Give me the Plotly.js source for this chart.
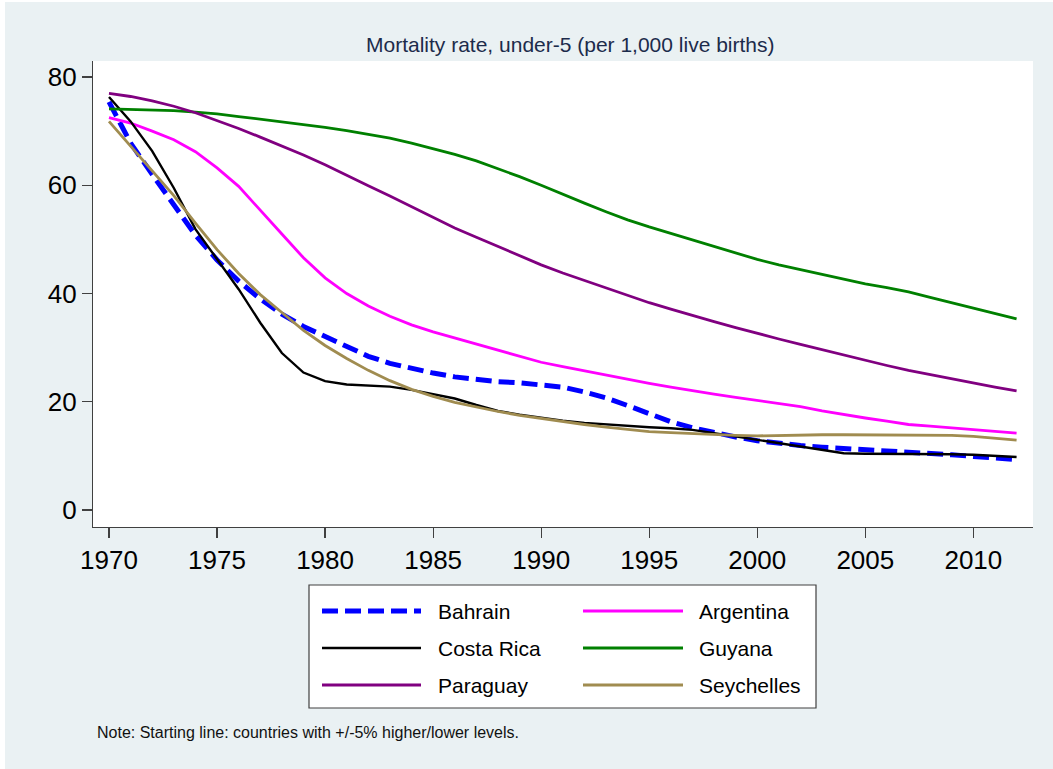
<!DOCTYPE html>
<html>
<head>
<meta charset="utf-8">
<script src="https://cdn.plot.ly/plotly-3.0.1.min.js"></script>
<style>
  html, body { margin: 0; padding: 0; background: #ffffff; }
  #chart { position: absolute; left: 5px; top: 2px; width: 1048px; height: 767px; }
</style>
</head>
<body>
<div id="chart"></div>
<script>
// Under-5 mortality rate (per 1,000 live births), 1970-2012
const years = [1970, 1971, 1972, 1973, 1974, 1975, 1976, 1977, 1978, 1979,
               1980, 1981, 1982, 1983, 1984, 1985, 1986, 1987, 1988, 1989,
               1990, 1991, 1992, 1993, 1994, 1995, 1996, 1997, 1998, 1999,
               2000, 2001, 2002, 2003, 2004, 2005, 2006, 2007, 2008, 2009,
               2010, 2011, 2012];

const bahrain = [75.4, 67.8, 62.0, 56.2, 50.8, 46.2, 42.3, 39.0, 36.2, 33.9,
                 32.0, 30.1, 28.4, 27.1, 26.1, 25.3, 24.6, 24.1, 23.7, 23.5,
                 23.2, 22.7, 21.8, 20.7, 19.3, 17.8, 16.3, 15.2, 14.3, 13.5,
                 12.8, 12.3, 11.9, 11.6, 11.4, 11.2, 11.0, 10.8, 10.5, 10.2,
                 9.9, 9.6, 9.3];

const argentina = [72.5, 71.5, 70.0, 68.4, 66.2, 63.2, 59.8, 55.5, 51.0, 46.6,
                   42.9, 40.0, 37.7, 35.8, 34.2, 32.9, 31.8, 30.6, 29.5, 28.4,
                   27.3, 26.5, 25.7, 24.9, 24.1, 23.4, 22.7, 22.0, 21.4, 20.8,
                   20.2, 19.6, 19.1, 18.3, 17.6, 17.0, 16.4, 15.8, 15.5, 15.2,
                   14.8, 14.5, 14.2];

const costaRica = [76.3, 71.8, 66.3, 59.5, 51.9, 46.3, 40.8, 34.6, 29.0, 25.4,
                   23.8, 23.2, 23.0, 22.8, 22.2, 21.4, 20.6, 19.4, 18.3, 17.6,
                   17.0, 16.5, 16.1, 15.8, 15.5, 15.3, 15.1, 14.8, 14.2, 13.6,
                   13.0, 12.3, 11.7, 11.1, 10.5, 10.4, 10.4, 10.4, 10.4, 10.3,
                   10.2, 10.0, 9.8];

const guyana = [74.1, 74.0, 73.9, 73.8, 73.5, 73.2, 72.7, 72.2, 71.8, 71.3,
                70.7, 70.1, 69.4, 68.7, 67.8, 66.8, 65.7, 64.5, 63.1, 61.6,
                60.0, 58.3, 56.7, 55.1, 53.6, 52.3, 51.1, 49.9, 48.8, 47.6,
                46.3, 45.3, 44.4, 43.5, 42.7, 41.8, 41.1, 40.3, 39.3, 38.3,
                37.3, 36.3, 35.3];

const paraguay = [77.0, 76.4, 75.6, 74.6, 73.4, 72.0, 70.5, 68.9, 67.3, 65.6,
                  63.8, 61.8, 59.9, 58.0, 56.0, 54.0, 52.1, 50.4, 48.7, 47.0,
                  45.3, 43.8, 42.4, 41.0, 39.6, 38.3, 37.1, 35.9, 34.8, 33.7,
                  32.6, 31.6, 30.6, 29.6, 28.6, 27.6, 26.7, 25.8, 25.0, 24.2,
                  23.4, 22.7, 22.0];

const seychelles = [71.8, 67.3, 62.7, 58.1, 53.0, 48.1, 43.7, 39.8, 36.5, 33.2,
                    30.4, 28.0, 25.8, 23.9, 22.3, 21.0, 19.9, 19.0, 18.2, 17.5,
                    16.9, 16.3, 15.8, 15.3, 14.9, 14.5, 14.3, 14.1, 14.0, 13.8,
                    13.7, 13.8, 13.9, 13.9, 13.9, 13.9, 13.9, 13.9, 13.8, 13.8,
                    13.6, 13.3, 12.9];

const yTicks = [0, 20, 40, 60, 80];
const xTicks = [1970, 1975, 1980, 1985, 1990, 1995, 2000, 2005, 2010];

const titleText = 'Mortality rate, under-5 (per 1,000 live births)';
const noteText = 'Note: Starting line: countries with +/-5% higher/lower levels.';

// Series in drawing order (also the row-wise legend order)
const series = [
  { name: 'Bahrain',    y: bahrain,    color: '#0000ff', width: 5,   dash: '16px,7px' },
  { name: 'Argentina',  y: argentina,  color: '#ff00ff', width: 2.8, dash: 'solid' },
  { name: 'Costa Rica', y: costaRica,  color: '#000000', width: 2.4, dash: 'solid' },
  { name: 'Guyana',     y: guyana,     color: '#008000', width: 2.8, dash: 'solid' },
  { name: 'Paraguay',   y: paraguay,   color: '#800080', width: 2.8, dash: 'solid' },
  { name: 'Seychelles', y: seychelles, color: '#a08c50', width: 2.8, dash: 'solid' }
];

const FONT = 'Liberation Sans, Arial, Helvetica, sans-serif';
const W = 1048, H = 767;
const M = { l: 88, r: 20, t: 59, b: 242 };
const PW = W - M.l - M.r, PH = H - M.t - M.b;

// convert div pixel positions into paper coordinates
const px = v => (v - M.l) / PW;
const py = v => (H - M.b - v) / PH;

const traces = series.map(s => ({
  type: 'scatter',
  mode: 'lines',
  name: s.name,
  x: years,
  y: s.y,
  line: { color: s.color, width: s.width, dash: s.dash, shape: 'linear' },
  hoverinfo: 'x+y+name'
}));

const shapes = [];
const annotations = [];

// Legend box
shapes.push({
  type: 'rect', xref: 'paper', yref: 'paper',
  x0: px(304), x1: px(811), y0: py(583), y1: py(706),
  line: { color: '#404040', width: 1.2 }, fillcolor: '#ffffff', layer: 'above'
});

// Legend entries, two columns filled row by row
const colKeyX = [[317, 416], [578, 678]];
const colTextX = [431, 692];
const rowY = [609, 646, 683];
series.forEach((s, i) => {
  const c = i % 2, r = Math.floor(i / 2);
  shapes.push({
    type: 'line', xref: 'paper', yref: 'paper',
    x0: px(colKeyX[c][0]), x1: px(colKeyX[c][1]),
    y0: py(rowY[r]), y1: py(rowY[r]),
    line: { color: s.color, width: s.width, dash: s.dash }, layer: 'above'
  });
  annotations.push({
    xref: 'paper', yref: 'paper', x: px(colTextX[c]), y: py(rowY[r]),
    xanchor: 'left', yanchor: 'middle', showarrow: false,
    text: s.name, font: { family: FONT, size: 21, color: '#000000' }
  });
});

// Title
annotations.push({
  xref: 'paper', yref: 'paper', x: px(565), y: py(42),
  xanchor: 'center', yanchor: 'middle', showarrow: false,
  text: titleText, font: { family: FONT, size: 21, color: '#1c2b4b' }
});

// Note
annotations.push({
  xref: 'paper', yref: 'paper', x: px(90), y: py(730),
  xanchor: 'left', yanchor: 'middle', showarrow: false,
  text: noteText, font: { family: FONT, size: 16, color: '#111111' }
});

const layout = {
  width: W, height: H,
  margin: M,
  paper_bgcolor: '#eaf1f3',
  plot_bgcolor: '#ffffff',
  showlegend: false,
  font: { family: FONT, color: '#000000' },
  xaxis: {
    range: [1969.26, 2012.76],
    tickmode: 'array', tickvals: xTicks, ticktext: xTicks.map(String),
    ticks: 'outside', ticklen: 10, tickwidth: 1.2, tickcolor: '#404040',
    showline: true, linecolor: '#404040', linewidth: 1.2,
    showgrid: false, zeroline: false,
    tickfont: { family: FONT, size: 26, color: '#000000' }
  },
  yaxis: {
    range: [-3.14, 82.96],
    tickmode: 'array', tickvals: yTicks, ticktext: yTicks.map(String),
    ticks: 'outside', ticklen: 10, tickwidth: 1.2, tickcolor: '#404040',
    showline: true, linecolor: '#404040', linewidth: 1.2,
    showgrid: false, zeroline: false,
    tickfont: { family: FONT, size: 26, color: '#000000' }
  },
  shapes: shapes,
  annotations: annotations
};

Plotly.newPlot('chart', traces, layout, { displayModeBar: false, staticPlot: true });
</script>
</body>
</html>
